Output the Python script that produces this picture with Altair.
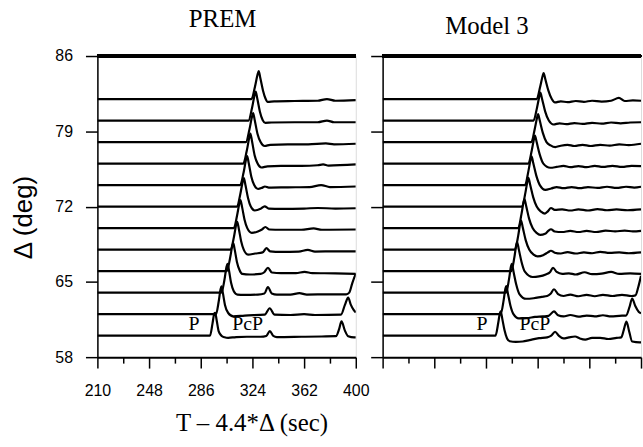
import altair as alt
import pandas as pd

# Epicentral distance of each trace (deg), bottom to top
distances = [60, 62, 64, 66, 68, 70, 72, 74, 76, 78, 80, 82]

# Waveforms as (reduced time in s, normalized amplitude) pairs
prem_60 = [(210, 0), (292.8, 0), (294.6, 0.42), (296.0, 0.80), (296.6, 0.82), (297.7, 0.55), (299.2, 0.15),
           (301.2, 0.0), (303.5, -0.06), (306.2, -0.08), (312, -0.05), (320, -0.04), (330, -0.04), (334.2, -0.01),
           (336.8, 0.16), (339.3, -0.01), (342, -0.05), (360, -0.04), (375, -0.03), (385.4, -0.02), (387.8, 0.24),
           (389.5, 0.51), (392, 0.18), (394.4, -0.02), (398.8, -0.06), (400, -0.06)]
prem_62 = [(210, 0), (297.2, 0), (299.2, 0.45), (300.6, 0.9), (301.3, 0.99), (302.3, 0.75), (303.8, 0.33),
           (306.2, 0.04), (309.9, -0.08), (318.3, -0.05), (333, -0.02), (336.7, 0.21), (340.3, -0.02), (352, -0.03),
           (362, 0.0), (370, -0.03), (389.1, -0.02), (392, 0.33), (394.4, 0.59), (396.4, 0.33), (398.4, 0.15),
           (400, 0.06)]
prem_64 = [(210, 0), (301.2, 0), (303.4, 0.45), (305.0, 0.93), (305.7, 1.03), (306.8, 0.78), (308.3, 0.35),
           (310.2, 0.06), (313, -0.07), (318, -0.08), (328, -0.07), (332.8, -0.03), (335.4, 0.2), (338.2, -0.03),
           (342, -0.07), (352, -0.07), (358.5, -0.02), (364, -0.07), (380, -0.06), (393, -0.06), (395.2, 0.0),
           (397.5, 0.35), (400, 0.68)]
prem_66 = [(210, 0), (305.2, 0), (307.5, 0.45), (309.2, 0.9), (309.9, 1.0), (311, 0.76), (312.6, 0.33),
           (314.5, 0.04), (316.5, -0.1), (322, -0.12), (330, -0.1), (332.7, -0.04), (335.4, 0.12), (338.3, -0.05),
           (345, -0.07), (356, -0.07), (362.3, -0.03), (368, -0.07), (385, -0.08), (400, -0.1)]
prem_68 = [(210, 0), (308, 0), (310.4, 0.45), (312.1, 0.9), (312.8, 0.99), (314, 0.74), (315.7, 0.3),
           (317.6, 0.0), (320.8, -0.18), (326, -0.14), (331.5, -0.1), (334.3, 0.05), (337, -0.06), (345, -0.08),
           (358, -0.07), (364.7, -0.01), (370, -0.07), (385, -0.06), (400, -0.06)]
prem_70 = [(210, 0), (310.3, 0), (312.7, 0.45), (314.5, 0.9), (315.2, 1.0), (316.4, 0.75), (318.2, 0.3),
           (320.2, 0.0), (323.5, -0.17), (328, -0.12), (331, -0.05), (333.5, 0.04), (336.5, -0.05), (345, -0.06),
           (360, -0.06), (369, -0.01), (375, -0.06), (400, -0.05)]
prem_72 = [(210, 0), (312.7, 0), (315.1, 0.45), (317, 0.92), (317.7, 1.02), (318.9, 0.76), (320.8, 0.3),
           (322.8, 0.0), (325.7, -0.14), (330, -0.08), (333, 0.01), (336, -0.07), (345, -0.08), (362, -0.07),
           (372, -0.05), (385, -0.07), (400, -0.06)]
prem_74 = [(210, 0), (315, 0), (317.5, 0.45), (319.4, 0.93), (320.1, 1.04), (321.3, 0.78), (323.2, 0.3),
           (325.3, 0.0), (328.1, -0.14), (331, -0.1), (333.2, -0.05), (336, -0.09), (350, -0.08), (366, -0.07),
           (374.5, 0.0), (381, -0.07), (400, -0.05)]
prem_76 = [(210, 0), (317.3, 0), (319.8, 0.45), (321.8, 0.95), (322.5, 1.07), (323.7, 0.8), (325.6, 0.3),
           (327.8, 0.0), (330.6, -0.14), (335, -0.1), (345, -0.08), (360, -0.08), (372, -0.06), (376, -0.03),
           (380, -0.07), (400, -0.03)]
prem_78 = [(210, 0), (319.2, 0), (321.8, 0.45), (323.8, 0.93), (324.5, 1.04), (325.7, 0.78), (327.7, 0.3),
           (330, 0.0), (333, -0.14), (337, -0.1), (350, -0.08), (365, -0.08), (378, -0.05), (384, -0.08),
           (400, -0.06)]
prem_80 = [(210, 0), (321.1, 0), (323.7, 0.45), (325.7, 0.93), (326.4, 1.04), (327.6, 0.78), (329.6, 0.3),
           (331.5, 0.02), (333.5, -0.08), (338, -0.07), (355, -0.06), (372, -0.06), (378.8, 0.0), (384, -0.06),
           (400, -0.06)]
prem_82 = [(210, 0), (323.3, 0), (325.9, 0.45), (327.9, 0.9), (328.6, 1.0), (329.8, 0.75), (331.8, 0.3),
           (333.6, 0.02), (335.2, -0.1), (340, -0.08), (355, -0.07), (372, -0.06), (378.8, 0.0), (385, -0.06),
           (400, -0.04)]

m3_60 = [(210, 0), (293, 0), (295, 0.45), (296.2, 0.8), (296.8, 0.87), (298, 0.6), (299.6, 0.2), (301.5, -0.1),
         (303.5, -0.2), (308, -0.22), (313, -0.21), (318, -0.16), (325, -0.09), (331, -0.06), (334, 0.0),
         (336.8, 0.14), (339.5, 0.0), (343, -0.1), (347, -0.06), (351.5, -0.03), (355, -0.1), (359, -0.14),
         (364, -0.08), (370, -0.08), (376, -0.12), (382, -0.08), (385.5, -0.06), (387.3, 0.2), (389.3, 0.5),
         (391.3, 0.15), (393.5, -0.21), (399, -0.24), (400, -0.24)]
m3_62 = [(210, 0), (296.8, 0), (299, 0.5), (300.3, 0.92), (300.9, 1.0), (302.2, 0.72), (304, 0.3), (306.2, 0.0),
         (310.1, -0.15), (316, -0.14), (322, -0.1), (328, -0.08), (332, -0.06), (336, 0.1), (339, -0.04),
         (343, -0.08), (348, -0.03), (354, -0.09), (360, -0.05), (366, -0.08), (372, -0.04), (378, -0.08),
         (384, -0.06), (389, -0.05), (391.5, 0.25), (393.5, 0.56), (395.7, 0.3), (398.4, 0.08), (400, 0.03)]
m3_64 = [(210, 0), (300.8, 0), (303, 0.5), (304.4, 0.94), (305, 1.03), (306.3, 0.74), (308.2, 0.3),
         (310.6, -0.05), (315.5, -0.22), (321, -0.2), (327, -0.15), (331, -0.12), (333.5, -0.04), (336, 0.12),
         (339, -0.05), (343, -0.12), (348, -0.07), (354, -0.13), (360, -0.08), (366, -0.13), (372, -0.08),
         (379, -0.12), (386, -0.08), (393, -0.12), (395.9, -0.1), (398, 0.2), (400, 0.6)]
m3_66 = [(210, 0), (304.6, 0), (306.9, 0.5), (308.3, 0.94), (308.9, 1.04), (310.2, 0.76), (312.2, 0.32),
         (314.6, -0.02), (320.3, -0.21), (325, -0.19), (330, -0.12), (333, -0.04), (335.3, 0.12), (338, -0.03),
         (342, -0.1), (347, -0.08), (352, -0.12), (358.5, -0.04), (364, -0.11), (371, -0.09), (378, -0.03),
         (384, -0.1), (392, -0.08), (400, -0.1)]
m3_68 = [(210, 0), (307.3, 0), (309.7, 0.5), (311.2, 0.94), (311.8, 1.04), (313.1, 0.78), (315.2, 0.34),
         (317.8, 0.0), (321, -0.18), (324, -0.24), (328, -0.2), (331.5, -0.1), (333.8, -0.04), (336.5, -0.11),
         (341, -0.14), (346, -0.09), (352, -0.14), (358, -0.1), (364, -0.13), (370, -0.08), (377, -0.12),
         (384, -0.1), (391, -0.13), (400, -0.1)]
m3_70 = [(210, 0), (309.7, 0), (312.1, 0.5), (313.7, 0.94), (314.3, 1.04), (315.6, 0.78), (317.7, 0.34),
         (320.3, 0.0), (323.2, -0.17), (325.9, -0.24), (329.5, -0.2), (331.8, -0.1), (333.8, -0.04),
         (336.5, -0.12), (342, -0.14), (348, -0.1), (354, -0.14), (360, -0.1), (367, -0.14), (374, -0.09),
         (381, -0.12), (388, -0.09), (394, -0.12), (400, -0.1)]
m3_72 = [(210, 0), (312.5, 0), (315, 0.5), (316.6, 0.93), (317.2, 1.03), (318.5, 0.78), (320.7, 0.34),
         (323.3, 0.0), (326.5, -0.18), (329.4, -0.25), (331.5, -0.17), (333.8, -0.05), (336.5, -0.12),
         (342, -0.1), (348, -0.14), (354, -0.1), (361, -0.14), (368, -0.09), (375, -0.13), (382, -0.1),
         (390, -0.13), (400, -0.1)]
m3_74 = [(210, 0), (314.7, 0), (317.2, 0.5), (318.9, 0.93), (319.5, 1.03), (320.8, 0.78), (323, 0.34),
         (325.6, 0.0), (329.7, -0.17), (334, -0.12), (338, -0.07), (343, -0.11), (349, -0.07), (355, -0.11),
         (361, -0.07), (368, -0.1), (375, -0.06), (382, -0.1), (389, -0.06), (395, -0.09), (400, -0.06)]
m3_76 = [(210, 0), (317.2, 0), (319.7, 0.48), (321.4, 0.9), (322, 1.0), (323.3, 0.76), (325.5, 0.33),
         (328.2, 0.0), (333.3, -0.15), (338, -0.12), (343, -0.08), (348, -0.13), (354, -0.09), (360, -0.13),
         (366, -0.08), (372, -0.12), (379, -0.08), (386, -0.12), (393, -0.08), (400, -0.09)]
m3_78 = [(210, 0), (319.4, 0), (321.9, 0.48), (323.7, 0.9), (324.3, 1.0), (325.6, 0.76), (327.8, 0.33),
         (330.5, 0.0), (333.5, -0.12), (337, -0.18), (341, -0.13), (346, -0.1), (351, -0.14), (357, -0.1),
         (363, -0.14), (370, -0.1), (377, -0.13), (384, -0.08), (391, -0.11), (400, -0.06)]
m3_80 = [(210, 0), (321, 0), (323.6, 0.48), (325.4, 0.9), (326, 1.0), (327.3, 0.76), (329.5, 0.33),
         (332.2, 0.0), (335.7, -0.14), (340, -0.1), (345, -0.13), (351, -0.09), (357, -0.12), (364, -0.08),
         (371, -0.11), (378, -0.07), (385, -0.1), (392, -0.07), (400, -0.06)]
m3_82 = [(210, 0), (323.3, 0), (325.9, 0.45), (327.8, 0.85), (328.4, 0.93), (329.7, 0.7), (331.9, 0.3),
         (334.4, 0.0), (336.7, -0.12), (341, -0.08), (346, -0.11), (352, -0.07), (358, -0.1), (364, -0.06),
         (371, -0.09), (378, -0.06), (383.7, 0.04), (388, -0.07), (394, -0.05), (400, -0.06)]

prem_traces = [prem_60, prem_62, prem_64, prem_66, prem_68, prem_70,
               prem_72, prem_74, prem_76, prem_78, prem_80, prem_82]
m3_traces = [m3_60, m3_62, m3_64, m3_66, m3_68, m3_70,
             m3_72, m3_74, m3_76, m3_78, m3_80, m3_82]

# Phase annotations next to the 60-degree trace
phase_names = ["P", "PcP"]
prem_phase_t = [281.0, 320.5]
m3_phase_t = [283.0, 322.0]
phase_dist = [61.1, 61.1]

GAIN = 2.6  # trace offset in degrees per unit of normalized amplitude

SERIF = "Liberation Serif"
SANS = "Liberation Sans"

x_ticks = [210 + 19 * i for i in range(11)]
y_ticks = [58 + 3.5 * i for i in range(9)]


def trace_table(traces):
    rows = []
    for d, pts in zip(distances, traces):
        for t, a in pts:
            rows.append({"dist": d, "t": t, "y": d + GAIN * a})
    return pd.DataFrame(rows)


def phase_table(times):
    return pd.DataFrame({"name": phase_names, "t": times, "y": phase_dist})


def x_axis(labels):
    kw = dict(
        values=x_ticks,
        tickSize={"condition": {"test": "(datum.value - 210) % 38 === 0", "value": 11}, "value": 6},
        tickWidth=1.5, tickColor="black", domainColor="black", domainWidth=2, grid=False,
        labels=labels,
    )
    if labels:
        kw.update(
            labelExpr="(datum.value - 210) % 38 === 0 ? datum.label : ''",
            labelFont=SANS, labelFontSize=16, labelColor="black", labelPadding=15,
            labelFlush=False, labelOverlap=False,
            title="T \u2013 4.4*\u0394 (sec)", titleFont=SERIF, titleFontSize=25,
            titleFontWeight="normal", titleColor="black", titleX=155, titleY=74,
            titleBaseline="alphabetic",
        )
    else:
        kw.update(title=None)
    return alt.Axis(**kw)


def y_axis(labels):
    kw = dict(
        values=y_ticks,
        tickSize={"condition": {"test": "datum.value % 7 === 2", "value": 12}, "value": 7},
        tickWidth=1.5, tickColor="black", domainColor="black", domainWidth=1.5, grid=False,
        labels=labels,
    )
    if labels:
        kw.update(
            labelExpr="datum.value % 7 === 2 ? datum.label : ''",
            labelFont=SANS, labelFontSize=16, labelColor="black", labelPadding=13,
            labelFlush=False, labelOverlap=False,
            title="\u0394 (deg)", titleFont=SANS, titleFontSize=26, titleFontWeight="normal",
            titleColor="black", titleAngle=270, titleBaseline="middle", titleX=-74, titleY=162,
        )
    else:
        kw.update(title=None)
    return alt.Axis(**kw)


def panel(traces, phase_t, name, dx, labels):
    xs = alt.Scale(domain=[210, 400], nice=False, zero=False)
    ys = alt.Scale(domain=[58, 86], nice=False, zero=False)
    x = alt.X("t:Q", scale=xs, axis=x_axis(labels))
    y = alt.Y("y:Q", scale=ys, axis=y_axis(labels))
    lines = alt.Chart(trace_table(traces)).mark_line(
        interpolate="monotone", color="black", strokeWidth=2.2, clip=True
    ).encode(x=x, y=y, detail="dist:N")
    text = alt.Chart(phase_table(phase_t)).mark_text(
        font=SERIF, fontSize=20, color="black", baseline="middle"
    ).encode(x=x, y=y, text="name:N")
    top = alt.Chart(trace_table(traces)).mark_rule(color="black", strokeWidth=3).encode(y=alt.datum(86))
    return alt.layer(lines, text, top).properties(
        width=260, height=303,
        title=alt.TitleParams(text=name, font=SERIF, fontSize=25, fontWeight="normal", color="black",
                              anchor="middle", baseline="alphabetic", offset=30, dx=dx, dy=34),
    )


left = panel(prem_traces, prem_phase_t, "PREM", -4, True)
right = panel(m3_traces, m3_phase_t, "Model 3", -25, False)

chart = alt.hconcat(left, right, spacing=27, bounds="flush").properties(
    padding={"left": 10, "top": 5, "right": 0, "bottom": 5},
).configure_view(stroke="black", strokeWidth=1.5).configure(background="white")

chart.save("out.html", embed_options={"renderer": "svg", "actions": False})
